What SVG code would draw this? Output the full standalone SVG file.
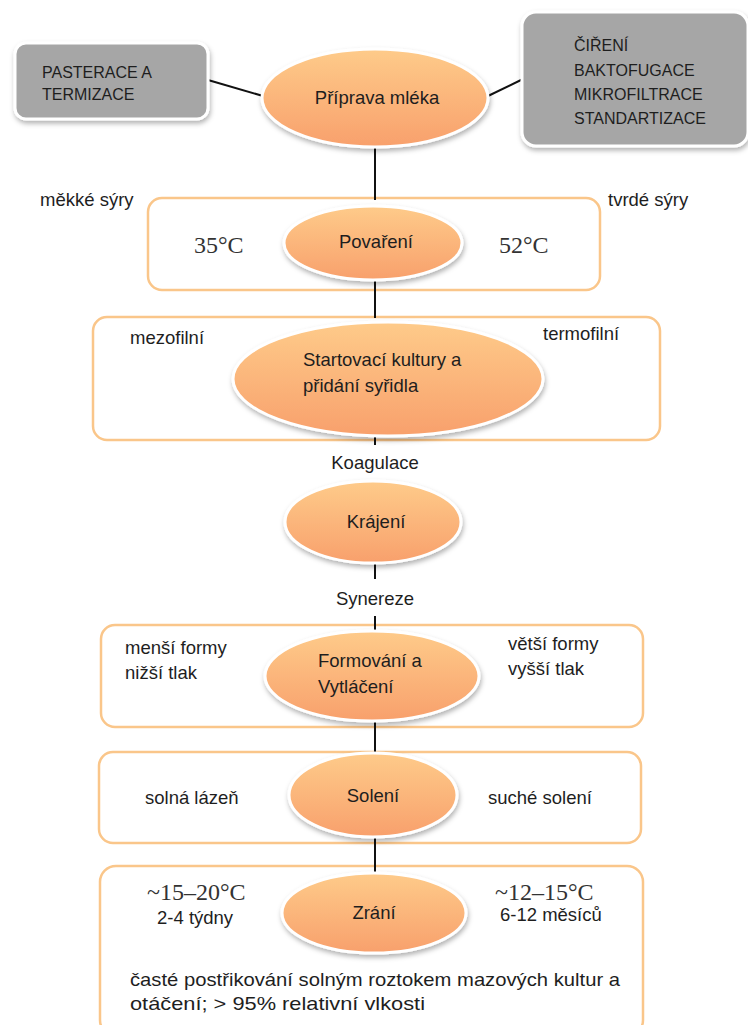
<svg xmlns="http://www.w3.org/2000/svg" width="748" height="1025" viewBox="0 0 748 1025">
<defs>
<linearGradient id="og" x1="0" y1="0" x2="0" y2="1">
<stop offset="0" stop-color="#FECB8A"/>
<stop offset="1" stop-color="#F8A06C"/>
</linearGradient>
<filter id="sh" x="-20%" y="-20%" width="140%" height="150%">
<feDropShadow dx="1" dy="3" stdDeviation="2.5" flood-color="#000" flood-opacity="0.3"/>
</filter>
<style>
.t{font-family:"Liberation Sans","DejaVu Sans",sans-serif;font-size:18.5px;fill:#1e1e1e}
.g{font-family:"Liberation Sans","DejaVu Sans",sans-serif;font-size:16px;fill:#1e1e1e}
.s{font-family:"Liberation Serif","DejaVu Serif",serif;font-size:24px;fill:#333}
.box{fill:#fff;stroke:#FAC68A;stroke-width:2.5}
.gray{fill:#A6A6A6;stroke:#fff;stroke-width:3;filter:url(#sh)}
.ell{fill:url(#og);stroke:#fff;stroke-width:3;filter:url(#sh)}
.c{stroke:#111;stroke-width:2;fill:none}
</style>
</defs>
<rect width="748" height="1025" fill="#fff"/>

<g id="box-povareni"><rect class="box" x="148" y="198" width="452" height="92" rx="14"/>
<text class="t" x="40" y="206">měkké sýry</text><text class="t" x="608" y="206">tvrdé sýry</text>
<text class="s" x="194" y="253">35°C</text><text class="s" x="499" y="253">52°C</text></g>
<g id="box-kultury"><rect class="box" x="93" y="317" width="567" height="123" rx="14"/>
<text class="t" x="130" y="344">mezofilní</text><text class="t" x="543" y="340">termofilní</text></g>
<g id="box-formovani"><rect class="box" x="101" y="625" width="542" height="102" rx="14"/>
<text class="t" x="125" y="654">menší formy</text><text class="t" x="125" y="679">nižší tlak</text>
<text class="t" x="508" y="650">větší formy</text><text class="t" x="508" y="675">vyšší tlak</text></g>
<g id="box-soleni"><rect class="box" x="99" y="752" width="542" height="91" rx="14"/>
<text class="t" x="145" y="804">solná lázeň</text><text class="t" x="488" y="804">suché solení</text></g>
<g id="box-zrani"><rect class="box" x="100" y="866" width="543" height="170" rx="16"/>
<text class="s" x="147" y="900">~15–20°C</text><text class="t" x="157" y="924">2-4 týdny</text>
<text class="s" x="495" y="900">~12–15°C</text><text class="t" x="500" y="921">6-12 měsíců</text>
<text class="t" x="130" y="986" textLength="490" lengthAdjust="spacingAndGlyphs">časté postřikování solným roztokem mazových kultur a</text>
<text class="t" x="130" y="1010" textLength="295" lengthAdjust="spacingAndGlyphs">otáčení; &gt; 95% relativní vlkosti</text></g>

<g id="connectors">
<line class="c" x1="208" y1="80" x2="263" y2="96"/>
<line class="c" x1="488" y1="96" x2="523" y2="79"/>
<line class="c" x1="375" y1="147" x2="375" y2="200"/>
<line class="c" x1="375" y1="280" x2="375" y2="318"/>
<line class="c" x1="375" y1="436" x2="375" y2="445"/>
<line class="c" x1="375" y1="563" x2="375" y2="579"/>
<line class="c" x1="375" y1="616" x2="375" y2="633"/>
<line class="c" x1="375" y1="720" x2="375" y2="753"/>
<line class="c" x1="375" y1="837" x2="375" y2="874"/>
</g>
<text class="t" x="375" y="469" text-anchor="middle">Koagulace</text>
<text class="t" x="375" y="605" text-anchor="middle">Synereze</text>

<g id="pasterace"><rect class="gray" x="15" y="43" width="193" height="76" rx="11"/>
<text class="g" x="42" y="78">PASTERACE A</text><text class="g" x="42" y="100">TERMIZACE</text></g>
<g id="cireni"><rect class="gray" x="522" y="12" width="226" height="134" rx="14"/>
<text class="g" x="574" y="51">ČIŘENÍ</text><text class="g" x="574" y="76">BAKTOFUGACE</text>
<text class="g" x="574" y="100">MIKROFILTRACE</text><text class="g" x="574" y="124">STANDARTIZACE</text></g>

<g id="priprava"><ellipse class="ell" cx="375" cy="98" rx="113" ry="49"/>
<text class="t" x="377" y="104" text-anchor="middle">Příprava mléka</text></g>
<g id="povareni"><ellipse class="ell" cx="373" cy="243" rx="89" ry="37"/>
<text class="t" x="376" y="248" text-anchor="middle">Povaření</text></g>
<g id="startovaci"><ellipse class="ell" cx="388" cy="379" rx="155" ry="57"/>
<text class="t" x="303" y="366">Startovací kultury a</text><text class="t" x="303" y="392">přidání syřidla</text></g>
<g id="krajeni"><ellipse class="ell" cx="373" cy="522" rx="88" ry="41"/>
<text class="t" x="376" y="528" text-anchor="middle">Krájení</text></g>
<g id="formovani"><ellipse class="ell" cx="372" cy="676" rx="107" ry="45"/>
<text class="t" x="318" y="667">Formování a</text><text class="t" x="318" y="693">Vytláčení</text></g>
<g id="soleni"><ellipse class="ell" cx="373" cy="795" rx="84" ry="42"/>
<text class="t" x="373" y="802" text-anchor="middle">Solení</text></g>
<g id="zrani"><ellipse class="ell" cx="374" cy="913" rx="92" ry="40"/>
<text class="t" x="374" y="919" text-anchor="middle">Zrání</text></g>
</svg>
